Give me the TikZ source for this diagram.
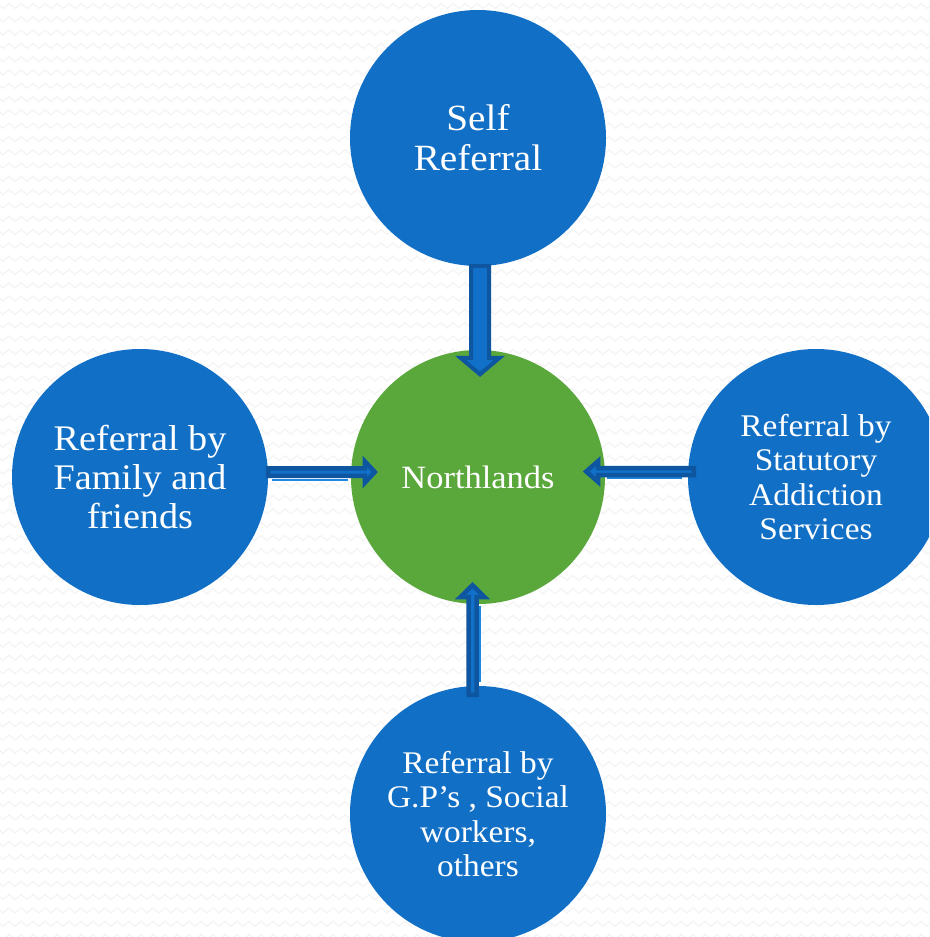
\documentclass[tikz,border=0pt]{standalone}
\usepackage{fontspec}
\setmainfont{Liberation Serif}[FakeStretch=1.06]
\usetikzlibrary{calc,decorations.pathmorphing}
\definecolor{circblue}{RGB}{17,112,198}
\definecolor{circgreen}{RGB}{90,168,60}
\definecolor{arrdark}{RGB}{14,86,160}
\definecolor{arrlight}{RGB}{17,113,201}
\definecolor{arrglow}{RGB}{30,136,224}
\definecolor{bgzig}{RGB}{244,244,244}
\begin{document}
\begin{tikzpicture}[x=1pt,y=-1pt,
  circ/.style={circle, minimum size=256pt, inner sep=0pt, text=white, align=center},
  bluecirc/.style={circ, fill=circblue},
  greencirc/.style={circ, fill=circgreen, minimum size=254pt},
  bigarrow/.style={draw=arrdark, fill=arrlight, line width=4pt, line join=miter},
  smallarrow/.style={draw=arrdark, fill=arrlight, line width=4.5pt, line join=miter},
  glowline/.style={draw=arrglow, line width=2pt},
  zigline/.style={draw=bgzig, line width=1.2pt, decorate,
    decoration={zigzag, segment length=12pt, amplitude=2.5pt}}]
\useasboundingbox (0,0) rectangle (929,937);
\clip (0,0) rectangle (929,937);
\fill[white] (0,0) rectangle (929,937);
\foreach \r in {0,...,70} \draw[zigline] (-6,\r*13.3+6) -- (940,\r*13.3+6);

\node[bluecirc, font=\fontsize{37pt}{40pt}\selectfont] (self) at (478,138) {Self\\Referral};
\node[greencirc, font=\fontsize{32.5pt}{35pt}\selectfont] (ctr) at (478,477) {Northlands};
\node[bluecirc, font=\fontsize{36pt}{39pt}\selectfont] (fam) at (140,477) {Referral by\\Family and\\friends};
\node[bluecirc, font=\fontsize{31.5pt}{34.5pt}\selectfont] (ser) at (816,477) {Referral by\\Statutory\\Addiction\\Services};
\node[bluecirc, font=\fontsize{31.5pt}{34.5pt}\selectfont] (gp) at (478,814) {Referral by\\G.P’s , Social\\workers,\\others};

% top arrow: self -> ctr
\coordinate (a1s) at ([xshift=2pt]self.south);
\coordinate (a1t) at ([xshift=2pt,yshift=-24.5pt]ctr.north);
\draw[bigarrow] ($(a1s)+(-9,0)$) -- ($(a1t)+(-9,-16.5)$) -- ($(a1t)+(-19.5,-16.5)$)
  -- (a1t) -- ($(a1t)+(19.5,-16.5)$) -- ($(a1t)+(9,-16.5)$) -- ($(a1s)+(9,0)$) -- cycle;

% left arrow: fam -> ctr
\coordinate (a2s) at ([yshift=5pt]fam.east);
\coordinate (a2t) at ([xshift=24pt,yshift=5pt]ctr.west);
\draw[glowline] ($(a2s)+(4,7.5)$) -- ($(a2s)+(80,7.5)$);
\draw[smallarrow] ($(a2s)+(0,-3.75)$) -- ($(a2t)+(-10,-3.75)$) -- ($(a2t)+(-10,-10.75)$)
  -- (a2t) -- ($(a2t)+(-10,10.75)$) -- ($(a2t)+(-10,3.75)$) -- ($(a2s)+(0,3.75)$) -- cycle;

% right arrow: ser -> ctr
\coordinate (a3s) at ([xshift=6pt,yshift=5.5pt]ser.west);
\coordinate (a3t) at ([xshift=-19pt,yshift=5.5pt]ctr.east);
\draw[glowline] ($(a3s)+(-12,6.5)$) -- ($(a3s)+(-87,6.5)$);
\draw[smallarrow] ($(a3s)+(0,-3.5)$) -- ($(a3t)+(12,-3.5)$) -- ($(a3t)+(12,-10.5)$)
  -- (a3t) -- ($(a3t)+(12,10.5)$) -- ($(a3t)+(12,3.5)$) -- ($(a3s)+(0,3.5)$) -- cycle;

% bottom arrow: gp -> ctr
\coordinate (a4s) at ([xshift=-5.5pt,yshift=-9pt]gp.north);
\coordinate (a4t) at ([xshift=-5.5pt,yshift=19pt]ctr.south);
\draw[glowline] ($(a4s)+(7.5,-13)$) -- ($(a4s)+(7.5,-89)$);
\draw[smallarrow] ($(a4s)+(-4,0)$) -- ($(a4t)+(-4,12)$) -- ($(a4t)+(-12.25,12)$)
  -- (a4t) -- ($(a4t)+(12.25,12)$) -- ($(a4t)+(4,12)$) -- ($(a4s)+(4,0)$) -- cycle;
\end{tikzpicture}
\end{document}
